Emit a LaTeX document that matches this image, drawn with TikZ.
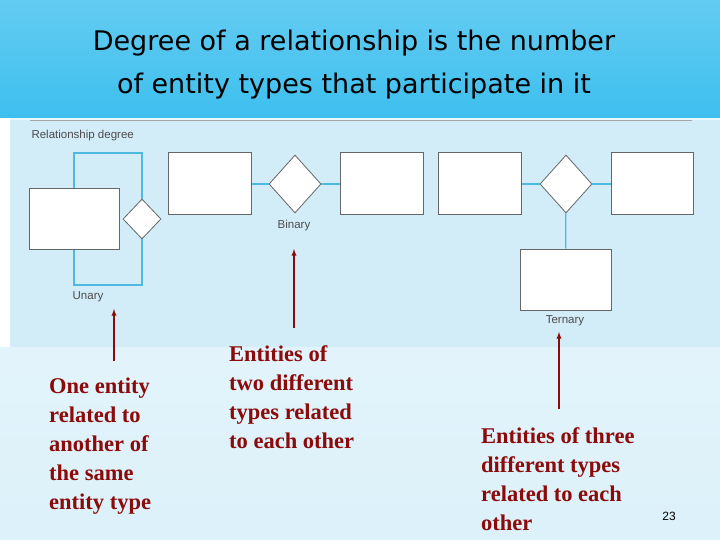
\documentclass[tikz,border=0pt]{standalone}
\usepackage{fontspec}
\setmainfont{Liberation Serif}
\setsansfont{Liberation Sans}
\newfontfamily\titlefont{DejaVu Sans}
\usetikzlibrary{shapes.geometric}
\definecolor{dred}{HTML}{8B0A0A}
\definecolor{lnk}{HTML}{4DB8E0}
\definecolor{ttl}{HTML}{3DBFEE}
\definecolor{pan}{HTML}{D2ECF8}
\definecolor{bgl}{HTML}{DCF1FA}
\begin{document}
\begin{tikzpicture}[x=1pt,y=-1pt,
  ent/.style={draw=gray!80!black,fill=white,line width=1pt},
  rel/.style={draw=gray!80!black,fill=white,line width=0.8pt,diamond,inner sep=0pt},
  lk/.style={draw=lnk,line width=1.2pt},
  captxt/.style={font=\sffamily\fontsize{11.5}{13}\selectfont,text=gray!60!black},
  arr/.style={draw=dred,line width=1.3pt,-{latex}},
  lab/.style={font=\bfseries\fontsize{22.5}{29}\selectfont,text=dred,align=left,anchor=north west,inner sep=0pt}]
\useasboundingbox (0,0) rectangle (720,540);
\fill[top color=bgl!60!white,bottom color=bgl] (0,118) rectangle (720,540);
\fill[top color=ttl!80!white,bottom color=ttl] (0,0) rectangle (720,118);
\fill[white] (0,118) rectangle (10,347);
\fill[pan] (10,120) rectangle (720,347);
\draw[gray!70,line width=0.6pt] (30,120) -- (692,120);
\node[font=\titlefont\fontsize{27}{43}\selectfont,align=center] (title) at (354,65) {Degree of a relationship is the number\\of entity types that participate in it};
\node[captxt,anchor=west] (rd) at (28,136) {Relationship degree};
% Unary
\node[ent,minimum width=90,minimum height=60] (u) at (74,219) {};
\node[rel,minimum width=38,minimum height=40] (ud) at (142,219) {};
\draw[lk] (u.north) |- (ud.north |- 0,153) -- (ud.north);
\draw[lk] (u.south) |- (ud.south |- 0,285) -- (ud.south);
\node[captxt] (ul) at (88,297) {Unary};
% Binary
\node[ent,minimum width=83,minimum height=62] (b1) at (209.5,184) {};
\node[rel,minimum width=52,minimum height=58] (bd) at (295,184) {};
\node[ent,minimum width=83,minimum height=62] (b2) at (381.5,184) {};
\draw[lk] (b1) -- (bd); \draw[lk] (bd) -- (b2);
\node[captxt] (bl) at (294,226) {Binary};
% Ternary
\node[ent,minimum width=83,minimum height=62] (t1) at (479.5,184) {};
\node[rel,minimum width=52,minimum height=58] (td) at (566,184) {};
\node[ent,minimum width=82,minimum height=62] (t2) at (652,184) {};
\node[ent,minimum width=91,minimum height=61] (t3) at (565.5,279.5) {};
\draw[lk] (t1) -- (td); \draw[lk] (td) -- (t2); \draw[lk] (td) -- (t3);
\node[captxt] (tl) at (565,321) {Ternary};
% arrows
\coordinate (a1) at (114,361); \coordinate (a1e) at (114,309);
\coordinate (a2) at (294,328); \coordinate (a2e) at (294,249);
\coordinate (a3) at (559,409); \coordinate (a3e) at (559,332);
\draw[arr] (a1) -- (a1e);
\draw[arr] (a2) -- (a2e);
\draw[arr] (a3) -- (a3e);
\node[lab] (l1) at (49,378) {One entity\\related to\\another of\\the same\\entity type};
\node[lab] (l2) at (229,345) {Entities of\\two different\\types related\\to each other};
\node[lab] (l3) at (481,427) {Entities of three\\different types\\related to each\\other};
\node[font=\sffamily\fontsize{12}{14}\selectfont] (pg) at (669,516) {23};
\end{tikzpicture}
\end{document}
